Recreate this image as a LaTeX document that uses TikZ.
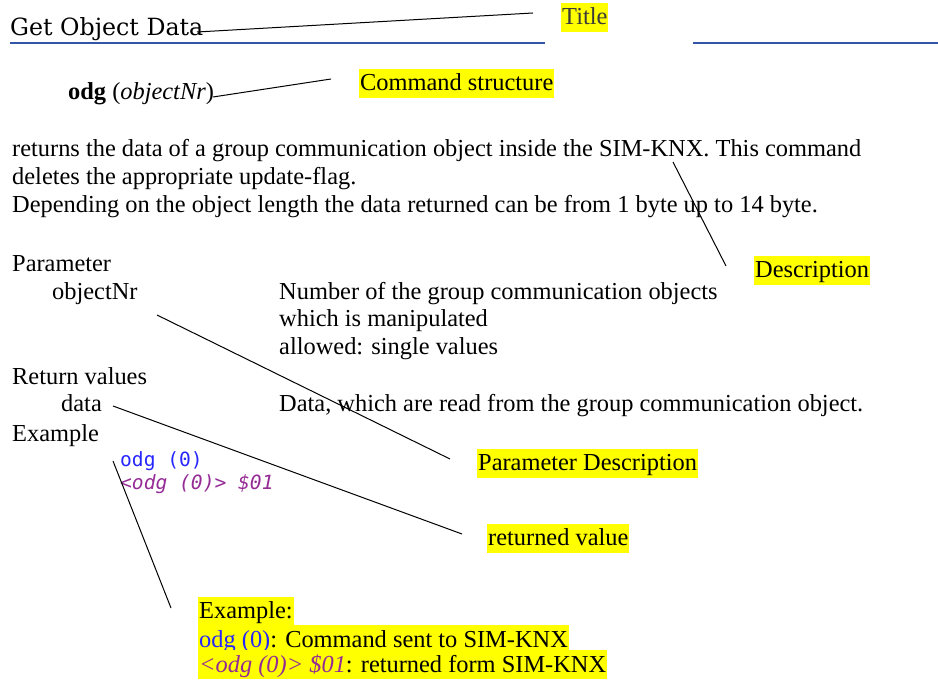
\documentclass[tikz,border=0pt]{standalone}
\usepackage{fontspec}
\setmainfont{Liberation Serif}
\newfontfamily\titlefont{DejaVu Serif}
\newfontfamily\codefont{DejaVu Sans Mono}
\usetikzlibrary{positioning}
\definecolor{rulecol}{HTML}{3355A8}
\definecolor{codeblue}{HTML}{2626FF}
\definecolor{codepurple}{HTML}{952B95}
\definecolor{hilite}{HTML}{FFFF00}
\definecolor{tagtext}{HTML}{3A3A3A}
\tikzset{
  txt/.style={anchor=base west, inner sep=0pt, font=\fontsize{24.4}{28}\selectfont},
  tag/.style={txt, fill=hilite, inner xsep=1pt, text height=22pt, text depth=7pt},
  code/.style={anchor=base west, inner sep=0pt, font=\codefont\fontsize{19.6}{23}\selectfont},
  leader/.style={line width=1pt, black},
}

\begin{document}
\begin{tikzpicture}[x=1pt, y=-1pt]
        \useasboundingbox (0,0) rectangle (938,684);
        % Heading
        \node[txt, font=\titlefont\fontsize{23.7}{28}\selectfont] (title) at (10,36) {Get Object Data};
        \draw[rulecol, line width=2pt] (10,43) -- (545,43);
        \draw[rulecol, line width=2pt] (693,43) -- (938,43);
        \node[tag, text=tagtext] (titletag) at (561,25) {Title};

        \node[txt] (cmd) at (68,100) {\textbf{odg} (\textit{objectNr})};
        \node[tag] (cmdtag) at (359,91) {Command structure};

        % Text body
        \node[txt] (para1) at (12,157) {returns the data of a group communication object inside the SIM-KNX. This command};
        \node[txt] (para2) at (12,185) {deletes the appropriate update-flag.};
        \node[txt] (para3) at (12,213) {Depending on the object length the data returned can be from 1 byte up to 14 byte.};
        \node[tag] (desctag) at (754,278) {Description};

        \node[txt] (parhead) at (12,272) {Parameter};
        \node[txt] (parname) at (52,300) {objectNr};
        \node[txt] (pardesc1) at (279,300) {Number of the group communication objects};
        \node[txt] (pardesc2) at (279,327) {which is manipulated};
        \node[txt] (pardesc3) at (279,355) {allowed: single values};

        \node[txt] (rethead) at (12,385) {Return values};
        \node[txt] (retname) at (61,412) {data};
        \node[txt] (retdesc) at (279,412) {Data, which are read from the group communication object.};

        \node[txt] (exhead) at (12,442) {Example};
        \node[code, codeblue] (excmd) at (120,467) {odg (0)};
        \node[code, codepurple, font=\codefont\itshape\fontsize{19.6}{23}\selectfont] (exans) at (120,490) {<odg (0)> \$01};

        % Callouts
        \node[tag] (partag) at (477,471) {Parameter Description};
        \node[tag] (rettag) at (487,546) {returned value};
        \node[tag] (extag1) at (198,619) {Example:};
        \node[tag] (extag2) at (198,647) {\textcolor{codeblue}{odg (0)}: Command sent to SIM-KNX};
        \node[tag] (extag3) at (198,672) {\textcolor{codepurple}{\textit{<odg (0)> \$01}}: returned form SIM-KNX};

        % Leader ends
        \coordinate (t0) at (197,32);  \coordinate (t1) at (533,13);
        \coordinate (c0) at (213,97);  \coordinate (c1) at (331,79);
        \coordinate (d0) at (673,162); \coordinate (d1) at (726,266);
        \coordinate (p0) at (157,315); \coordinate (p1) at (450,459);
        \coordinate (r0) at (113,406); \coordinate (r1) at (462,534);
        \coordinate (e0) at (113,461); \coordinate (e1) at (171,608);

        % Leaders
        \draw[leader] (t0) -- (t1);
        \draw[leader] (c0) -- (c1);
        \draw[leader] (d0) -- (d1);
        \draw[leader] (p0) -- (p1);
        \draw[leader] (r0) -- (r1);
        \draw[leader] (e0) -- (e1);
    \end{tikzpicture}
\end{document}
